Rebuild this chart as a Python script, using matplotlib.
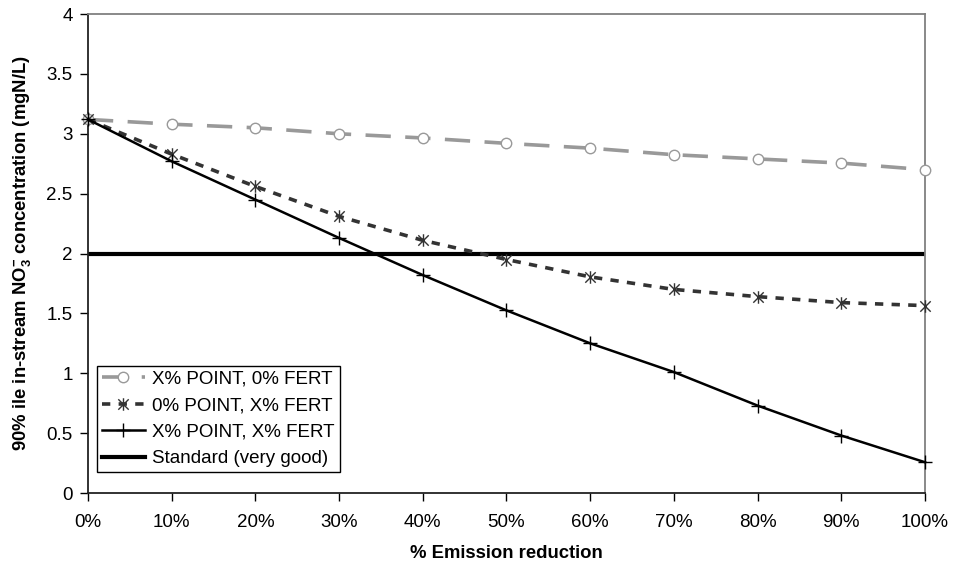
import matplotlib
matplotlib.use('Agg')
import matplotlib.pyplot as plt
from matplotlib.path import Path
from matplotlib.ticker import FuncFormatter

plt.rcParams['font.family'] = ['Liberation Sans', 'DejaVu Sans']
plt.rcParams['mathtext.fontset'] = 'custom'
plt.rcParams['mathtext.rm'] = 'Liberation Sans'
plt.rcParams['mathtext.bf'] = 'Liberation Sans:bold'

# emission reduction steps (%)
reduction = [0, 10, 20, 30, 40, 50, 60, 70, 80, 90, 100]

# 90 percentile NO3 concentration per scenario (mgN/L)
point_only = [3.12, 3.08, 3.05, 3.00, 2.965, 2.92, 2.88, 2.825, 2.79, 2.755, 2.70]
fert_only = [3.12, 2.83, 2.56, 2.31, 2.11, 1.95, 1.805, 1.70, 1.64, 1.59, 1.565]
point_fert = [3.12, 2.77, 2.45, 2.13, 1.82, 1.525, 1.25, 1.01, 0.73, 0.48, 0.257]
standard = 2.0

labels = ['X% POINT, 0% FERT', '0% POINT, X% FERT', 'X% POINT, X% FERT', 'Standard (very good)']

# star marker: an x with a vertical bar through it
star = Path([(-1, -1), (1, 1), (-1, 1), (1, -1), (0, -1.2), (0, 1.2)],
            [Path.MOVETO, Path.LINETO, Path.MOVETO, Path.LINETO, Path.MOVETO, Path.LINETO])

fig = plt.figure(figsize=(9.54, 5.61), dpi=100)
ax = fig.add_axes([0.0922, 0.1212, 0.8774, 0.8538])

ax.plot(reduction, point_only, color='#999999', lw=2.6, dashes=(7, 4),
        marker='o', ms=7.5, mfc='white', mec='#999999', mew=1.0,
        clip_on=False, zorder=3, label=labels[0])
ax.plot(reduction, fert_only, color='#333333', lw=2.6, dashes=(2.3, 2.3),
        marker=star, ms=9, mfc='none', mec='#333333', mew=1.0,
        clip_on=False, zorder=3, label=labels[1])
ax.plot(reduction, point_fert, color='black', lw=1.8,
        marker='+', ms=10, mew=1.0, clip_on=False, zorder=3, label=labels[2])
ax.plot([reduction[0], reduction[-1]], [standard, standard], color='black', lw=3.0,
        zorder=2, label=labels[3])

ax.set_xlim(0, 100)
ax.set_ylim(0, 4)
ax.set_xticks(reduction)
ax.xaxis.set_major_formatter(FuncFormatter(lambda v, p: '%d%%' % v))
ax.set_yticks([0, 0.5, 1, 1.5, 2, 2.5, 3, 3.5, 4])
ax.yaxis.set_major_formatter(FuncFormatter(lambda v, p: '%g' % v))
ax.tick_params(direction='out', length=6, width=1, labelsize=13.5, colors='black')
ax.tick_params(axis='x', pad=9)
ax.tick_params(axis='y', pad=5)

for s in ['left', 'bottom']:
    ax.spines[s].set_color('#222222')
    ax.spines[s].set_linewidth(1.3)
for s in ['top', 'right']:
    ax.spines[s].set_color('#808080')
    ax.spines[s].set_linewidth(1.3)

ax.set_xlabel('% Emission reduction', fontsize=13.3, fontweight='bold', labelpad=10)
ax.set_ylabel(r'90% ile in-stream NO$_\mathbf{3}^\mathbf{-}$ concentration (mgN/L)',
              fontsize=13.3, fontweight='bold', labelpad=10)

leg = ax.legend(loc='lower left', bbox_to_anchor=(0.011, 0.044), borderaxespad=0,
                fontsize=13.5, handlelength=2.3, handletextpad=0.4, labelspacing=0.5,
                borderpad=0.25, fancybox=False, framealpha=1)
leg.get_frame().set_edgecolor('black')
leg.get_frame().set_linewidth(1.0)

fig.savefig('out.png', dpi=100)
